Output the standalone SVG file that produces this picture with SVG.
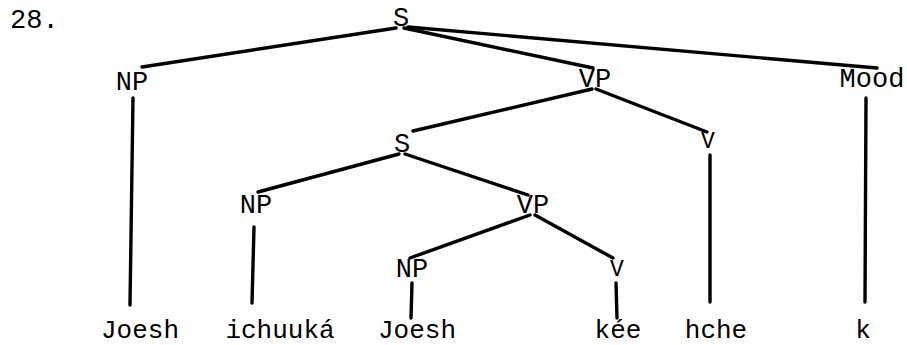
<svg xmlns="http://www.w3.org/2000/svg" width="907" height="345" viewBox="0 0 907 345">
  <style>
    text { font-family: "Courier New", "Liberation Mono", monospace; fill: #000; text-anchor: middle; }
    .lab { font-size: 27px; }
    .small { font-size: 23px; }
    .leaf { font-size: 26px; }
    .num { font-size: 27px; text-anchor: start; }
    .edge { stroke: #000; stroke-width: 3.4; stroke-linecap: round; fill: none; }
  </style>
  <rect width="907" height="345" fill="#fff"/>
  <text class="num" x="10" y="28">28.</text>

  <!-- branches of the tree -->
  <g id="connectors">
    <line class="edge" x1="396" y1="28" x2="142" y2="67"/>
    <line class="edge" x1="404" y1="28" x2="593" y2="68"/>
    <line class="edge" x1="408" y1="27" x2="877" y2="68"/>
    <line class="edge" x1="133" y1="98" x2="130" y2="305"/>
    <line class="edge" x1="866" y1="98" x2="865" y2="302"/>
    <line class="edge" x1="592" y1="89" x2="413" y2="131"/>
    <line class="edge" x1="596" y1="89" x2="707" y2="132"/>
    <line class="edge" x1="710" y1="155" x2="710" y2="302"/>
    <line class="edge" x1="399" y1="154" x2="258" y2="192"/>
    <line class="edge" x1="405" y1="154" x2="528" y2="195"/>
    <line class="edge" x1="254" y1="227" x2="252" y2="303"/>
    <line class="edge" x1="530" y1="215" x2="410" y2="258"/>
    <line class="edge" x1="535" y1="215" x2="613" y2="258"/>
    <line class="edge" x1="412" y1="283" x2="411" y2="318"/>
    <line class="edge" x1="616" y1="283" x2="617" y2="318"/>
  </g>

  <g id="s-root"><text class="lab" x="401" y="26">S</text></g>
  <g id="np-1"><text class="lab" x="132" y="90">NP</text></g>
  <g id="vp-1"><text class="lab" x="595" y="87">VP</text></g>
  <g id="mood"><text class="lab" x="872" y="87">Mood</text></g>
  <g id="s-2"><text class="lab" x="402" y="152">S</text></g>
  <g id="v-1"><text class="small" x="708" y="148">V</text></g>
  <g id="np-2"><text class="lab" x="256" y="213">NP</text></g>
  <g id="vp-2"><text class="lab" x="533" y="213">VP</text></g>
  <g id="np-3"><text class="lab" x="412" y="277">NP</text></g>
  <g id="v-2"><text class="small" x="617" y="276">V</text></g>

  <g id="leaf-joesh-1"><text class="leaf" x="140" y="338">Joesh</text></g>
  <g id="leaf-ichuuka"><text class="leaf" x="280" y="338">ichuuká</text></g>
  <g id="leaf-joesh-2"><text class="leaf" x="417" y="338">Joesh</text></g>
  <g id="leaf-kee"><text class="leaf" x="618" y="338">kée</text></g>
  <g id="leaf-hche"><text class="leaf" x="716" y="338">hche</text></g>
  <g id="leaf-k"><text class="leaf" x="863" y="338">k</text></g>
</svg>
